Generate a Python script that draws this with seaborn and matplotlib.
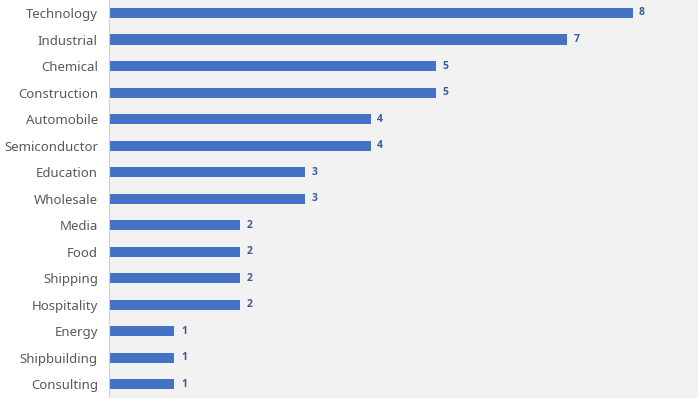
import matplotlib
matplotlib.use("Agg")
import matplotlib.pyplot as plt
import seaborn as sns
import pandas as pd

categories = ["Technology", "Industrial", "Chemical", "Construction", "Automobile",
              "Semiconductor", "Education", "Wholesale", "Media", "Food", "Shipping",
              "Hospitality", "Energy", "Shipbuilding", "Consulting"]
counts = [8, 7, 5, 5, 4, 4, 3, 3, 2, 2, 2, 2, 1, 1, 1]

df = pd.DataFrame({"category": categories, "count": counts})

sns.set_theme(style="white")
plt.rcParams['font.family'] = ['Noto Sans', 'DejaVu Sans']

fig = plt.figure(figsize=(7.0, 3.98), dpi=100)
ax = fig.add_axes([109/700, 0.0, (698-109)/700, 1.0])
ax.set_facecolor("#f2f2f2")

sns.barplot(data=df, y="category", x="count", orient="h", color="#4472c4",
            width=0.38, saturation=1, linewidth=0, ax=ax)

for i, v in enumerate(counts):
    ax.text(v + 0.1, i, str(v), va="center", ha="left", fontsize=7.5,
            color="#3b5a9a", fontweight="bold", family=['Open Sans', 'DejaVu Sans'])

ax.set_xlim(0, 9)
ax.set_ylim(14.52, -0.49)
ax.set_xlabel("")
ax.set_ylabel("")
ax.set_xticks([])
ax.tick_params(axis="y", length=0, pad=8, labelsize=9.5, labelcolor="#595959")
for s in ["top", "right", "bottom"]:
    ax.spines[s].set_visible(False)
ax.spines["left"].set_color("#d0d0d0")
ax.spines["left"].set_linewidth(0.8)

fig.savefig("out.png", dpi=100)
